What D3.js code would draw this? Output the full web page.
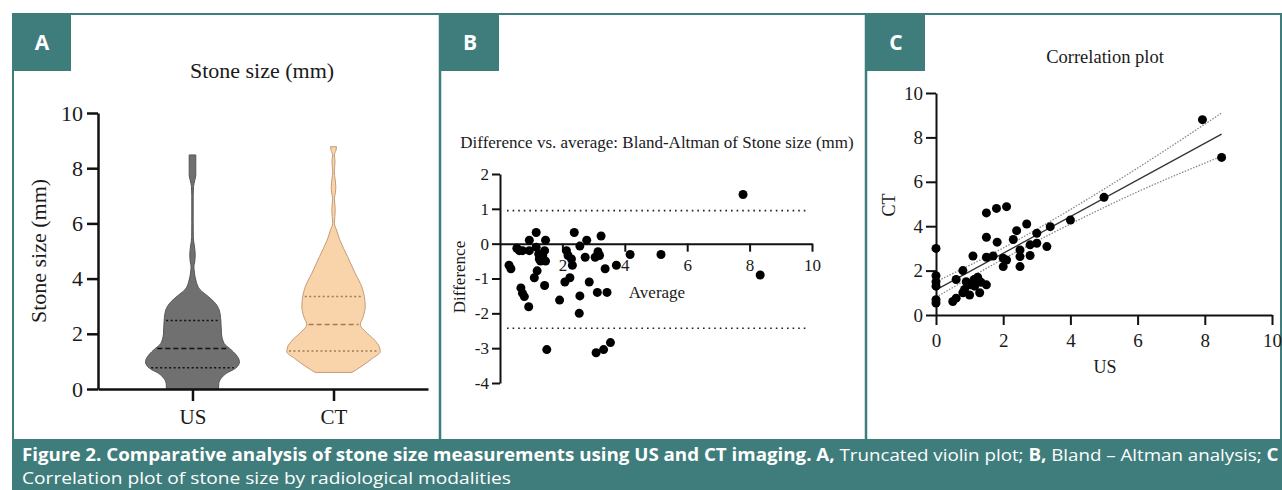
<!DOCTYPE html>
<html>
<head>
<meta charset="utf-8">
<script src="https://cdn.jsdelivr.net/npm/d3@7"></script>
<style>
  body { margin: 0; background: #fff; }
  svg { display: block; }
  .serif { font-family: "Liberation Serif", "Times New Roman", serif; fill: #1a1a1a; }
</style>
</head>
<body>
<div id="fig"></div>
<script>
// ---- data ----
const groupsA = ["US", "CT"];
// violin outlines: [stone size mm, relative density]
const usProfile = [[0, 26], [0.2, 26.3], [0.39, 28.7], [0.57, 34], [0.75, 43], [0.99, 47], [1.17, 45], [1.41, 39],
  [1.65, 31.7], [2.0, 29], [2.5, 28.3], [2.86, 26.7], [3.1, 23], [3.35, 15.8], [3.6, 7.5], [3.95, 3.3], [4.2, 2],
  [4.43, 1.4], [4.6, 2.2], [4.85, 2.7], [5.1, 2.2], [5.35, 1.2], [5.5, 0.8], [6.0, 0.7], [7.0, 0.7], [7.33, 1],
  [7.55, 2.2], [7.75, 3.3], [8.48, 3.3]];
const ctProfile = [[0.6, 18.3], [0.81, 27.5], [1.11, 39], [1.35, 46.7], [1.53, 45.8], [1.78, 40.8], [2.08, 32],
  [2.32, 26.7], [2.62, 29.7], [2.98, 31.7], [3.35, 30.8], [3.7, 28.3], [4.19, 21.7], [4.8, 14], [5.4, 6.3],
  [5.76, 3], [6.0, 0.9], [6.25, 1.3], [6.5, 1.7], [6.9, 0.9], [7.1, 1.8], [7.33, 2.3], [7.6, 1.6], [7.87, 0.8],
  [8.24, 1.5], [8.48, 0.9], [8.65, 2.5], [8.78, 3]];
const usQuart = [0.77, 1.47, 2.48];
const ctQuart = [1.38, 2.34, 3.35];

// Bland-Altman: [average, difference]
const baPoints = [[0.29, -0.62], [0.35, -0.72], [0.54, -0.13], [0.62, -0.2], [0.72, -0.2], [0.94, -0.2], [0.94, 0.1],
  [1.16, 0.32], [1.16, -0.1], [1.24, -0.3], [1.26, -0.44], [1.37, -0.34], [1.46, 0.1], [1.43, -0.2], [1.46, -0.5],
  [1.3, -0.5], [1.19, -0.78], [1.1, -0.98], [1.43, -1.2], [0.67, -1.27], [0.72, -1.42], [0.78, -1.52], [0.92, -1.81],
  [1.5, -3.04], [2.13, -0.2], [2.18, -0.34], [2.29, -0.44], [2.32, -0.62], [2.38, 0.32], [2.56, -0.07], [2.78, 0.1],
  [2.73, -0.39], [3.05, -0.39], [3.14, -0.23], [3.19, -0.34], [3.24, 0.22], [3.37, -0.72], [3.73, -0.62],
  [2.24, -0.98], [2.08, -1.1], [2.86, -1.1], [1.91, -1.62], [2.56, -1.5], [2.54, -2.0], [3.12, -1.4], [3.43, -1.4],
  [3.08, -3.13], [3.32, -3.04], [3.54, -2.84], [4.17, -0.31], [5.16, -0.31], [7.79, 1.41], [8.34, -0.9]];
const baLimits = [0.95, -2.43];

// Correlation: [US, CT]
const corrPoints = [[0, 3.0], [0, 1.77], [0, 1.5], [0, 1.3], [0, 0.69], [0, 0.54], [0.5, 0.61], [0.6, 0.76],
  [0.6, 1.6], [0.8, 2.0], [0.8, 1.0], [0.9, 1.5], [1.0, 0.9], [1.02, 1.36], [1.1, 2.66], [1.14, 1.6], [1.24, 1.7],
  [1.3, 1.0], [1.34, 1.47], [1.5, 1.36], [1.5, 4.6], [1.5, 3.5], [1.5, 2.6], [1.7, 2.66], [1.8, 4.8], [1.82, 3.28],
  [2.0, 2.56], [2.0, 2.18], [2.1, 4.88], [2.1, 2.48], [2.3, 3.4], [2.4, 3.8], [2.5, 2.93], [2.5, 2.63], [2.5, 2.18],
  [2.7, 4.1], [2.8, 3.16], [2.8, 2.68], [3.0, 3.68], [3.0, 3.23], [3.3, 3.08], [3.4, 3.98], [4.0, 4.28], [5.0, 5.3],
  [7.93, 8.8], [8.5, 7.1], [0.85, 1.15], [1.15, 1.3]];
const fitLine = [[0, 1.13], [8.5, 8.15]];
const bandUpper = [[0, 1.5], [2, 3.02], [4, 4.75], [6, 6.62], [8.5, 9.1]];
const bandLower = [[0, 0.8], [2, 2.52], [4, 4.1], [6, 5.55], [8.5, 7.15]];

const ticks10 = [0, 2, 4, 6, 8, 10];
const ticksBx = [2, 4, 6, 8, 10];
const ticksBy = [-4, -3, -2, -1, 0, 1, 2];

// ---- page ----
const W = 1282, H = 490;
const teal = "#3e7d7c";
const svg = d3.select("#fig").append("svg").attr("width", W).attr("height", H);

// panel frames
svg.append("rect").attr("x", 13).attr("y", 14).attr("width", 1268).attr("height", 426)
  .attr("fill", "#fff").attr("stroke", teal).attr("stroke-width", 2);
[440, 866].forEach(x => svg.append("line").attr("x1", x).attr("x2", x).attr("y1", 13).attr("y2", 440)
  .attr("stroke", teal).attr("stroke-width", 2.5));

// panel letters
[["A", 12], ["B", 440], ["C", 866]].forEach(([t, x]) => {
  svg.append("rect").attr("x", x).attr("y", 13).attr("width", 59).attr("height", 58).attr("fill", teal);
  svg.append("text").attr("x", x + 30).attr("y", 50).attr("text-anchor", "middle")
    .style("font-family", "'Open Sans', sans-serif").style("font-weight", 700).style("font-size", "21px")
    .attr("fill", "#fff").text(t);
});

function styleAxis(g, size, sw) {
  g.select(".domain").attr("stroke", "#111").attr("stroke-width", sw);
  g.selectAll(".tick line").attr("stroke", "#111").attr("stroke-width", sw);
  g.selectAll(".tick text").attr("class", "serif").style("font-size", size + "px").attr("fill", "#1a1a1a")
    .style("font-family", "'Liberation Serif', 'Times New Roman', serif");
}

// ---- A: violin ----
const xA = d3.scalePoint().domain(groupsA).range([98, 428]).padding(0.67);
const yA = d3.scaleLinear().domain([0, 10]).range([389, 113]);
const wA = d3.scaleLinear().domain([0, 47]).range([0, 47]);

svg.append("text").attr("class", "serif").attr("x", 262).attr("y", 78).attr("text-anchor", "middle")
  .style("font-size", "22px").text("Stone size (mm)");

const violins = [
  { key: "US", prof: usProfile, q: usQuart, fill: "#707070", stroke: "#555", qc: "#111" },
  { key: "CT", prof: ctProfile, q: ctQuart, fill: "#f9d3aa", stroke: "#c49c78", qc: "#a27a58" }
];
function halfAt(prof, v) {
  for (let i = 1; i < prof.length; i++) {
    if (v <= prof[i][0]) {
      const t = (v - prof[i - 1][0]) / (prof[i][0] - prof[i - 1][0]);
      return prof[i - 1][1] + t * (prof[i][1] - prof[i - 1][1]);
    }
  }
  return prof[prof.length - 1][1];
}
violins.forEach(vn => {
  const cx = xA(vn.key);
  const area = d3.area()
    .y(d => yA(d[0]))
    .x0(d => cx - wA(d[1]))
    .x1(d => cx + wA(d[1]))
    .curve(d3.curveMonotoneY);
  svg.append("path").datum(vn.prof).attr("d", area)
    .attr("fill", vn.fill).attr("stroke", vn.stroke).attr("stroke-width", 1);
  vn.q.forEach((q, i) => {
    const hw = wA(halfAt(vn.prof, q)) - 2;
    svg.append("line").attr("x1", cx - hw).attr("x2", cx + hw).attr("y1", yA(q)).attr("y2", yA(q))
      .attr("stroke", vn.qc).attr("stroke-width", 1.5)
      .attr("stroke-dasharray", i === 1 ? "5,3" : "2,2.5");
  });
});

const gAy = svg.append("g").attr("transform", "translate(98,0)")
  .call(d3.axisLeft(yA).tickValues(ticks10).tickSize(11).tickSizeOuter(0).tickPadding(4));
styleAxis(gAy, 22, 2.5);
const gAx = svg.append("g").attr("transform", "translate(0,389)")
  .call(d3.axisBottom(xA).tickSize(12).tickSizeOuter(0).tickPadding(8));
styleAxis(gAx, 21, 2.5);
svg.append("text").attr("class", "serif").attr("transform", "translate(46,251) rotate(-90)")
  .attr("text-anchor", "middle").style("font-size", "22px").text("Stone size (mm)");

// ---- B: Bland-Altman ----
const xB = d3.scaleLinear().domain([0, 10]).range([500, 812]);
const yB = d3.scaleLinear().domain([-4, 2]).range([383, 174]);

svg.append("text").attr("class", "serif").attr("x", 657).attr("y", 148).attr("text-anchor", "middle")
  .style("font-size", "17px").text("Difference vs. average: Bland-Altman of Stone size (mm)");

baLimits.forEach(l => svg.append("line").attr("x1", 507).attr("x2", 807)
  .attr("y1", yB(l)).attr("y2", yB(l)).attr("stroke", "#222").attr("stroke-width", 1.6)
  .attr("stroke-dasharray", "1.6,4"));

const gBx = svg.append("g").attr("transform", `translate(0,${yB(0)})`)
  .call(d3.axisBottom(xB).tickValues(ticksBx).tickSize(8).tickSizeOuter(0).tickPadding(7).tickFormat(d => String(d)));
styleAxis(gBx, 17, 2);
const gBy = svg.append("g").attr("transform", `translate(${xB(0)},0)`)
  .call(d3.axisLeft(yB).tickValues(ticksBy).tickSize(8).tickSizeOuter(0).tickPadding(3).tickFormat(d => String(d)));
styleAxis(gBy, 17, 2);

svg.append("g").selectAll("circle").data(baPoints).join("circle")
  .attr("cx", d => xB(d[0])).attr("cy", d => yB(d[1])).attr("r", 4.5).attr("fill", "#000");

svg.append("text").attr("class", "serif").attr("x", 657).attr("y", 298).attr("text-anchor", "middle")
  .style("font-size", "17px").text("Average");
svg.append("text").attr("class", "serif").attr("transform", "translate(465,277) rotate(-90)")
  .attr("text-anchor", "middle").style("font-size", "17px").text("Difference");

// ---- C: correlation ----
const xC = d3.scaleLinear().domain([0, 10]).range([936, 1272]);
const yC = d3.scaleLinear().domain([0, 10]).range([315, 93]);

svg.append("text").attr("class", "serif").attr("x", 1105).attr("y", 63).attr("text-anchor", "middle")
  .style("font-size", "18.5px").text("Correlation plot");

const lineC = d3.line().x(d => xC(d[0])).y(d => yC(d[1])).curve(d3.curveMonotoneX);
[bandUpper, bandLower].forEach(b => svg.append("path").datum(b).attr("d", lineC)
  .attr("fill", "none").attr("stroke", "#888").attr("stroke-width", 1.3).attr("stroke-dasharray", "1.5,1.5"));
svg.append("path").datum(fitLine).attr("d", lineC).attr("fill", "none").attr("stroke", "#333").attr("stroke-width", 1.3);

const gCx = svg.append("g").attr("transform", "translate(0,315)")
  .call(d3.axisBottom(xC).tickValues(ticks10).tickSize(10).tickSizeOuter(0).tickPadding(9));
styleAxis(gCx, 19, 2);
const gCy = svg.append("g").attr("transform", "translate(936,0)")
  .call(d3.axisLeft(yC).tickValues(ticks10).tickSize(10).tickSizeOuter(0).tickPadding(3));
styleAxis(gCy, 19, 2);

svg.append("g").selectAll("circle").data(corrPoints).join("circle")
  .attr("cx", d => xC(d[0])).attr("cy", d => yC(d[1])).attr("r", 4.5).attr("fill", "#000");

svg.append("text").attr("class", "serif").attr("x", 1105).attr("y", 373).attr("text-anchor", "middle")
  .style("font-size", "18px").text("US");
svg.append("text").attr("class", "serif").attr("transform", "translate(895,205) rotate(-90)")
  .attr("text-anchor", "middle").style("font-size", "18px").text("CT");

// ---- caption ----
svg.append("rect").attr("x", 12).attr("y", 439).attr("width", W - 12).attr("height", H - 439).attr("fill", teal);
const capLines = [
  { y: 461, target: 1258, parts: [
    ["Figure 2. Comparative analysis of stone size measurements using US and CT imaging. A,", 700],
    [" Truncated violin plot; ", 400], ["B,", 700], [" Bland \u2013 Altman analysis; ", 400], ["C", 700]] },
  { y: 484, target: 489, parts: [["Correlation plot of stone size by radiological modalities", 400]] }
];
capLines.forEach(cl => {
  const t = svg.append("text").attr("x", 0).attr("y", 0).attr("fill", "#fff")
    .style("font-family", "'Open Sans', sans-serif").style("font-size", "17px");
  cl.parts.forEach(p => t.append("tspan").style("font-weight", p[1]).text(p[0]));
  const w = t.node().getComputedTextLength();
  t.attr("transform", `translate(22,${cl.y}) scale(${cl.target / w},1)`);
});
</script>
</body>
</html>
